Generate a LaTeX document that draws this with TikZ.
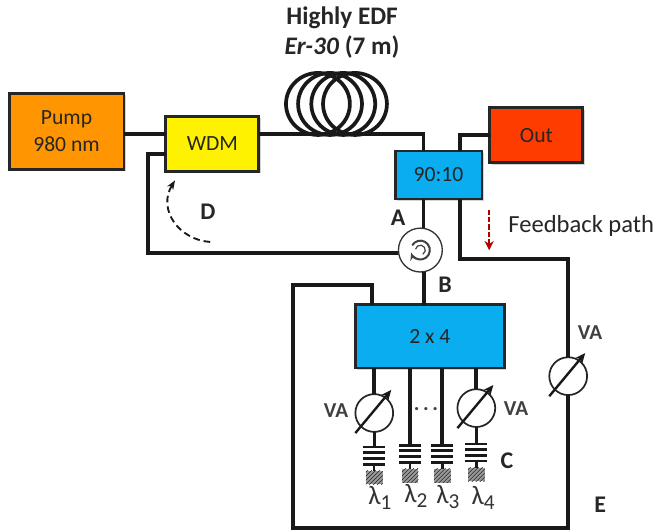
\documentclass[tikz,border=0pt]{standalone}
\usepackage{fontspec}
\setmainfont{Carlito}
\usetikzlibrary{shapes.geometric, arrows.meta, positioning, shadows, patterns}
\definecolor{pumpc}{HTML}{FF9500}
\definecolor{outc}{HTML}{FF3C00}
\definecolor{splitc}{HTML}{0AADF0}

\begin{document}
\begin{tikzpicture}[
        box/.style={draw=black!85, rectangle, line width=2.2pt, outer sep=0pt, align=center, text=black!85, font=\fontsize{16.3}{20}\selectfont,
            drop shadow={shadow xshift=.05cm, shadow yshift=-.05cm, opacity=.35}},
        pumpbox/.style={box, fill=pumpc, minimum width=3.04cm, minimum height=2.01cm},
        wdmbox/.style={box, fill=yellow, minimum width=2.46cm, minimum height=1.46cm},
        outbox/.style={box, fill=outc, minimum width=2.46cm, minimum height=1.46cm},
        splitbox/.style={box, fill=splitc, minimum width=2.30cm, minimum height=1.27cm},
        coupbox/.style={box, fill=splitc, minimum width=3.94cm, minimum height=1.67cm},
        fibre/.style={draw=black!90, line width=2.8pt},
        coilloop/.style={draw=black!90, ellipse, line width=2.8pt, outer sep=0pt, minimum width=1.69cm, minimum height=1.64cm},
        circ/.style={draw=black!80, circle, line width=1pt, outer sep=0pt, fill=white, minimum size=1.16cm},
        va/.style={draw=black!85, circle, line width=1.3pt, outer sep=0pt, fill=white, minimum size=1cm},
        grating/.style={rectangle, minimum width=.58cm, minimum height=.44cm, inner sep=0pt, outer sep=0pt},
        hatchbox/.style={rectangle, minimum width=.44cm, minimum height=.36cm, inner sep=0pt, outer sep=0pt, preaction={fill=black!40}, pattern=north east lines, pattern color=black!85},
        tag/.style={font=\fontsize{18}{20}\selectfont\bfseries, text=black!85},
        valabel/.style={font=\fontsize{16}{18}\selectfont\bfseries, text=black!75},
        txt/.style={font=\fontsize{18.5}{21}\selectfont, text=black!85},
        node distance=0pt
    ]
        \useasboundingbox (0,0) rectangle (17.30,14.05);

        \node[pumpbox] (pump) at (1.76,10.58) {Pump\\980 nm};
        \node[wdmbox, right=1.11cm of pump, yshift=-.33cm] (wdm) {WDM};
        \node[splitbox, right=3.60cm of wdm, yshift=-.83cm] (split) {90:10};
        \node[outbox, right=.21cm of split, yshift=1.05cm] (out) {Out};
        \node[circ, below=.77cm of split, xshift=-.48cm] (cir) {};
        \node[coupbox, below=.87cm of cir, xshift=.25cm] (coup) {2 x 4};

        \foreach \i/\x in {1/8.41, 2/8.73, 3/9.08, 4/9.39}
            \node[coilloop] (coil\i) at (\x,11.30) {};
        \node[font=\fontsize{19}{22.5}\selectfont\bfseries, align=center, text=black!85] (edf) at (9.05,13.18) {Highly EDF\\\textit{Er-30} (7 m)};

        % fibres round the coil
        \coordinate (wdmA) at ([yshift=.25cm]wdm.west);
        \coordinate (wdmB) at ([yshift=-.28cm]wdm.west);
        \coordinate (wdmC) at ([yshift=.25cm]wdm.east);
        \coordinate (splA) at ([xshift=-.40cm]split.north);
        \coordinate (splB) at ([xshift=.56cm]split.north);
        \coordinate (splC) at ([xshift=-.40cm]split.south);
        \coordinate (splD) at ([xshift=.56cm]split.south);
        \draw[fibre] (wdmA) -- (wdmA -| pump.east);
        \draw[fibre] (wdmC) -| (splA);
        \draw[fibre] (out.west) -| (splB);
        \draw[fibre] (splC) -- (splC |- cir.north);

        % feedback into the WDM
        \coordinate (backB) at ([yshift=-.07cm]cir.west);
        \coordinate (backA) at (backB -| 3.92,0);
        \draw[fibre] (wdmB) -| (backA) -- (backB);

        % circulator
        \draw[black!75, line width=1.5pt, -{Stealth[length=6pt]}] ([shift={(150:.25)}]cir.center) arc[start angle=150, end angle=-165, radius=.25cm];
        \draw[black!75, line width=.9pt] ([shift={(170:.13)}]cir.center) arc[start angle=170, end angle=-60, radius=.13cm];

        % 2 x 4 and the loop
        \coordinate (coupA) at ([xshift=-.15cm]coup.north);
        \coordinate (coupB) at ([xshift=-1.53cm]coup.north);
        \draw[fibre] (cir.south -| coupA) -- (coupA);

        \node[va, right=1.19cm of coup, yshift=-1.05cm] (vaE) {};
        \node[va, below=.69cm of coup, xshift=-1.47cm] (vaA) {};
        \node[va, below=.56cm of coup, xshift=1.23cm] (vaB) {};

        \coordinate (bendE) at (vaE.north |- 0,7.20);
        \coordinate (loopA) at (vaE.south |- 0,.08);
        \coordinate (loopB) at (7.75,.08);
        \coordinate (loopC) at (7.75,6.51);
        \draw[fibre] (splD) |- (bendE) -- (vaE.north);
        \draw[fibre] (vaE.south) -- (loopA) -- (loopB) -- (loopC) -| (coupB);

        \foreach \v in {vaA, vaB, vaE}
            \draw[black!90, line width=1.8pt, -{Stealth[length=8pt, width=7pt]}] ([shift={(-.50,-.53)}]\v.center) -- ([shift={(.45,.61)}]\v.center);

        % gratings
        \node[grating, below=.40cm of vaA] (grat1) {};
        \node[grating, below=2.04cm of coup, xshift=-.52cm] (grat2) {};
        \node[grating, below=2.04cm of coup, xshift=.33cm] (grat3) {};
        \node[grating, below=.45cm of vaB] (grat4) {};
        \draw[fibre] (vaA.north |- coup.south) -- (vaA.north);
        \draw[fibre] (vaB.north |- coup.south) -- (vaB.north);
        \draw[fibre, line width=2pt] (vaA.south) -- (grat1.north);
        \draw[fibre, line width=2pt] (vaB.south) -- (grat4.north);
        \draw[fibre] (grat2.north |- coup.south) -- (grat2.north);
        \draw[fibre] (grat3.north |- coup.south) -- (grat3.north);

        \foreach \i/\dx/\dy in {1/.15/.05, 2/.15/.05, 3/.15/.08, 4/.18/.13} {
            \foreach \d in {.22,.07,-.08,-.23}
                \draw[black!90, line width=2.2pt] ([yshift=\d cm]grat\i.west) -- ([yshift=\d cm]grat\i.east);
            \node[hatchbox, below=.19cm of grat\i] (hatch\i) {};
            \draw[black!90, line width=1.8pt] (grat\i.south) -- (hatch\i.north);
            \node[below=\dy cm of hatch\i, xshift=\dx cm, inner sep=0pt, font=\fontsize{20}{22}\selectfont, text=black!80] (lam\i) {λ\raisebox{-.35ex}{\fontsize{16}{16}\selectfont\i}};
        }

        % labels
        \node[tag] (tagA) at (10.53,8.28) {A};
        \node[tag] (tagB) at (11.77,6.53) {B};
        \node[tag] (tagC) at (13.41,1.85) {C};
        \node[tag] (tagD) at (5.50,8.44) {D};
        \node[tag] (tagE) at (15.88,.71) {E};
        \node[valabel] (labE) at (15.61,5.24) {VA};
        \node[valabel] (labA) at (8.89,3.20) {VA};
        \node[valabel] (labB) at (13.65,3.25) {VA};
        \node[font=\fontsize{16}{18}\selectfont\bfseries, text=black!75] (dots) at (11.27,3.22) {.\,.\,.};
        \node[txt, anchor=west, inner sep=0pt] (fbtxt) at (13.44,8.07) {Feedback path};

        \coordinate (fbA) at (12.94,8.50);
        \coordinate (fbB) at (12.94,7.43);
        \draw[red!70!black, line width=1.6pt, dash pattern=on 4pt off 1.5pt, -{Stealth[length=7pt, width=7pt]}] (fbA) -- (fbB);

        \coordinate (arcA) at (5.56,7.65);
        \coordinate (arcB) at (4.63,9.28);
        \draw[black!90, line width=1.4pt, dash pattern=on 5pt off 3pt, -{Stealth[length=7pt]}] (arcA) .. controls (4.75,7.70) and (4.15,8.50) .. (arcB);
    \end{tikzpicture}
\end{document}
